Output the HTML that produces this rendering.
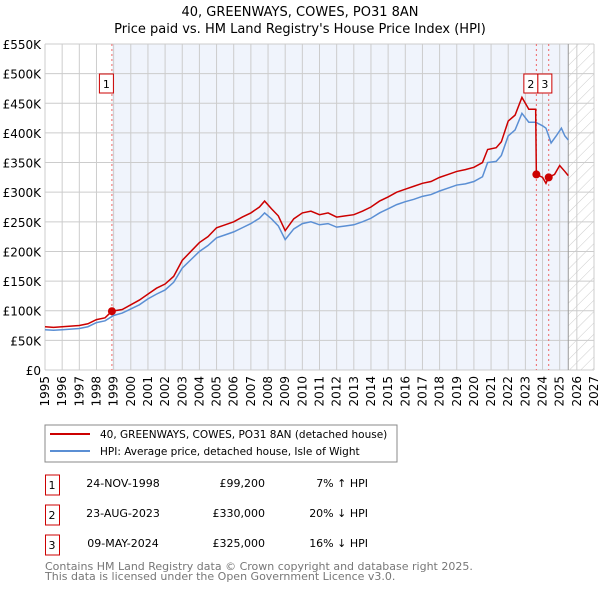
<!DOCTYPE html>
<html><head><meta charset="utf-8"><style>
body{margin:0;background:#fff;font-family:"DejaVu Sans","Liberation Sans",sans-serif;}
svg text{font-family:"DejaVu Sans","Liberation Sans",sans-serif;}
</style></head><body>
<svg width="600" height="590" xmlns="http://www.w3.org/2000/svg">
<defs><pattern id="hatch" width="8" height="8" patternUnits="userSpaceOnUse" patternTransform="rotate(45)"><line x1="0" y1="0" x2="0" y2="8" stroke="#ccc" stroke-width="1"/></pattern></defs>
<text x="300" y="16" text-anchor="middle" font-size="13">40, GREENWAYS, COWES, PO31 8AN</text>
<text x="300" y="33" text-anchor="middle" font-size="13">Price paid vs. HM Land Registry's House Price Index (HPI)</text>
<g id="plot"></g>
<rect x="45" y="425" width="352" height="37" fill="#fff" stroke="#888"/>
<line x1="50" y1="434" x2="90" y2="434" stroke="#cc0000" stroke-width="2"/>
<text x="100" y="438" font-size="10.5">40, GREENWAYS, COWES, PO31 8AN (detached house)</text>
<line x1="50" y1="451" x2="90" y2="451" stroke="#5b8fd4" stroke-width="2"/>
<text x="100" y="455" font-size="10.5">HPI: Average price, detached house, Isle of Wight</text>
<g font-size="11">
<rect x="45.5" y="475" width="14" height="20" fill="none" stroke="#cc0000"/><text x="52" y="489" text-anchor="middle">1</text>
<text x="123" y="487" text-anchor="middle">24-NOV-1998</text><text x="265" y="487" text-anchor="end">£99,200</text><text x="368" y="487" text-anchor="end">7% ↑ HPI</text>
<rect x="45.5" y="505" width="14" height="20" fill="none" stroke="#cc0000"/><text x="52" y="519" text-anchor="middle">2</text>
<text x="123" y="517" text-anchor="middle">23-AUG-2023</text><text x="265" y="517" text-anchor="end">£330,000</text><text x="368" y="517" text-anchor="end">20% ↓ HPI</text>
<rect x="45.5" y="535" width="14" height="20" fill="none" stroke="#cc0000"/><text x="52" y="549" text-anchor="middle">3</text>
<text x="123" y="547" text-anchor="middle">09-MAY-2024</text><text x="265" y="547" text-anchor="end">£325,000</text><text x="368" y="547" text-anchor="end">16% ↓ HPI</text>
</g>
<text x="45" y="570" font-size="11" fill="#777">Contains HM Land Registry data © Crown copyright and database right 2025.</text>
<text x="45" y="580" font-size="11" fill="#777">This data is licensed under the Open Government Licence v3.0.</text>
</svg>
<script>
const yTicks=[0,50,100,150,200,250,300,350,400,450,500,550];
const xYears=[1995,1996,1997,1998,1999,2000,2001,2002,2003,2004,2005,2006,2007,2008,2009,2010,2011,2012,2013,2014,2015,2016,2017,2018,2019,2020,2021,2022,2023,2024,2025,2026,2027];
const redX=[1995,1995.5,1996,1996.5,1997,1997.5,1998,1998.5,1998.9,1999.5,2000,2000.5,2001,2001.5,2002,2002.5,2003,2003.5,2004,2004.5,2005,2005.5,2006,2006.5,2007,2007.5,2007.8,2008.2,2008.6,2009,2009.5,2010,2010.5,2011,2011.5,2012,2012.5,2013,2013.5,2014,2014.5,2015,2015.5,2016,2016.5,2017,2017.5,2018,2018.5,2019,2019.5,2020,2020.5,2020.8,2021.3,2021.6,2022,2022.4,2022.8,2023.2,2023.6,2023.64,2024,2024.2,2024.35,2024.7,2025,2025.3,2025.5];
const redY=[73,72,73,74,75,78,85,88,99.2,102,110,118,128,138,145,158,185,200,215,225,240,245,250,258,265,275,285,272,260,235,255,265,268,262,265,258,260,262,268,275,285,292,300,305,310,315,318,325,330,335,338,342,350,372,375,385,420,430,460,440,440,330,325,315,325,330,345,335,328];
const blueX=[1995,1995.5,1996,1996.5,1997,1997.5,1998,1998.5,1999,1999.5,2000,2000.5,2001,2001.5,2002,2002.5,2003,2003.5,2004,2004.5,2005,2005.5,2006,2006.5,2007,2007.5,2007.8,2008.2,2008.6,2009,2009.5,2010,2010.5,2011,2011.5,2012,2012.5,2013,2013.5,2014,2014.5,2015,2015.5,2016,2016.5,2017,2017.5,2018,2018.5,2019,2019.5,2020,2020.5,2020.8,2021.3,2021.6,2022,2022.4,2022.8,2023.2,2023.6,2024,2024.2,2024.5,2024.8,2025.1,2025.3,2025.5];
const blueY=[68,67,68,69,70,73,80,83,92,96,103,110,120,128,135,148,172,186,200,210,223,228,233,240,247,256,265,255,243,220,238,247,250,245,247,241,243,245,250,256,265,272,279,284,288,293,296,302,307,312,314,318,326,350,352,362,395,405,433,418,418,412,408,383,395,408,395,388];
const saleX=[1998.9,2023.64,2024.36];
const saleY=[99.2,330,325];
const saleLabels=["1","2","3"];
const X0=45,X1=594,Y0=370,Y1=44;
const xs=y=>X0+(y-1995)*(X1-X0)/32;
const ys=v=>Y0-v*(Y0-Y1)/550;
const NS="http://www.w3.org/2000/svg";
const g=document.getElementById('plot');
function mk(t,a){const e=document.createElementNS(NS,t);for(const k in a)e.setAttribute(k,a[k]);g.appendChild(e);return e;}
let e;
e=mk('rect',{x:xs(saleX[0]),y:Y1,width:xs(2025.5)-xs(saleX[0]),height:Y0-Y1,fill:'#f0f4fc'});


e=mk('rect',{x:xs(2025.5),y:Y1,width:X1-xs(2025.5),height:Y0-Y1,fill:'url(#hatch)'});


yTicks.forEach(t=>{
 e=mk('line',{x1:X0,x2:X1,y1:ys(t),y2:ys(t),stroke:'#ccc'});
 
 
 e=mk('text',{x:41,y:ys(t)+5,'text-anchor':'end','font-size':'12'});e.textContent='£'+(t===0?'0':t+'K');
 
 
});
xYears.forEach(y=>{
 e=mk('line',{x1:xs(y),x2:xs(y),y1:Y1,y2:Y0,stroke:'#ccc'});
 
 
 e=mk('text',{x:0,y:0,'text-anchor':'end','font-size':'12',transform:`translate(${xs(y)+4},${Y0+6}) rotate(-90)`});e.textContent=y;
 
 
});
e=mk('line',{x1:xs(2025.5),x2:xs(2025.5),y1:Y1,y2:Y0,stroke:'#999'});


saleX.forEach((s,i)=>{
 e=mk('line',{x1:xs(s),x2:xs(s),y1:Y1,y2:Y0,stroke:'#e66','stroke-dasharray':'2,3'});
 
 
});
e=mk('polyline',{points:blueX.map((x,i)=>xs(x)+','+ys(blueY[i])).join(' '),fill:'none',stroke:'#5b8fd4','stroke-width':1.5});


e=mk('polyline',{points:redX.map((x,i)=>xs(x)+','+ys(redY[i])).join(' '),fill:'none',stroke:'#cc0000','stroke-width':1.5});


saleX.forEach((s,i)=>{
 e=mk('circle',{cx:xs(s),cy:ys(saleY[i]),r:4,fill:'#cc0000'});
 
 
 const bx=i===0?xs(s)-12:(i===1?xs(s)-12:xs(saleX[1])+2);
 e=mk('rect',{x:bx-0.5,y:74,width:14,height:19,fill:'#fff',stroke:'#cc0000'});
 
 
 e=mk('text',{x:bx+6.5,y:88,'text-anchor':'middle','font-size':'11'});e.textContent=saleLabels[i];
 
 
});
</script>
</body></html>
